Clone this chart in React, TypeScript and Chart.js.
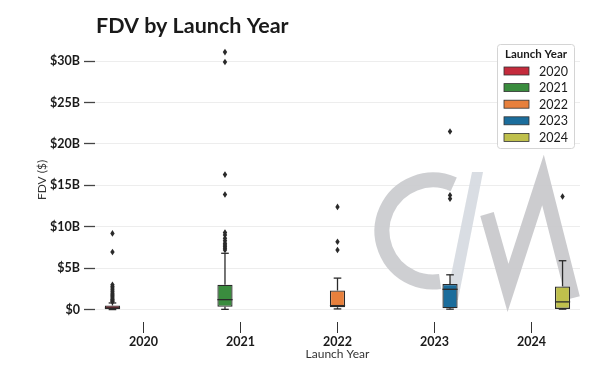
import { useEffect, useRef } from 'react';
import { Chart, registerables } from 'chart.js';

Chart.register(...registerables);

// ---- data (values in billions of USD) ----
const YEARS = ['2020', '2021', '2022', '2023', '2024'];
const COLORS = ['#c42b3c', '#3a8c3e', '#e8803c', '#1b6d9c', '#bfc04c'];
const Q1 = [0.03, 0.33, 0.28, 0.16, 0.08];
const MEDIAN = [0.2, 1.2, 0.48, 2.45, 0.93];
const Q3 = [0.5, 3.0, 2.3, 3.1, 2.8];
const WHISKER_LOW = [0.0, 0.03, 0.08, 0.05, 0.05];
const WHISKER_HIGH = [0.8, 6.8, 3.8, 4.2, 5.9];
const OUT_2020 = [0.95, 1.05, 1.15, 1.25, 1.4, 1.55, 1.7, 1.85, 2.0, 2.2, 2.4, 2.6, 2.8, 3.0, 6.95, 9.2];
const OUT_2021 = [7.2, 7.4, 7.6, 7.8, 8.0, 8.3, 8.6, 9.0, 9.3, 13.9, 16.3, 29.9, 31.1];
const OUT_2022 = [7.2, 8.2, 12.4];
const OUT_2023 = [13.4, 13.8, 21.5];
const OUT_2024 = [13.65];
const OUTLIERS = [OUT_2020, OUT_2021, OUT_2022, OUT_2023, OUT_2024];
const TICK_VALUES = [0, 5, 10, 15, 20, 25, 30];
const TICK_LABELS = ['$0', '$5B', '$10B', '$15B', '$20B', '$25B', '$30B'];
const TITLE = 'FDV by Launch Year';
const LEGEND_TITLE = 'Launch Year';

const FONT = 'Lato, "Open Sans", sans-serif';

const watermarkPlugin = {
  id: 'watermark',
  beforeDatasetsDraw(chart: any) {
    const ctx = chart.ctx;
    ctx.save();
    ctx.globalAlpha = 0.9;
    // C
    ctx.strokeStyle = '#c9cacd';
    ctx.lineWidth = 15;
    ctx.lineCap = 'butt';
    ctx.beginPath();
    ctx.arc(433, 231, 51, (-66 * Math.PI) / 180, (82 * Math.PI) / 180, true);
    ctx.stroke();
    // slash
    ctx.fillStyle = '#d5d9e0';
    ctx.beginPath();
    ctx.moveTo(446, 300);
    ctx.lineTo(458, 300);
    ctx.lineTo(483, 172);
    ctx.lineTo(472, 172);
    ctx.closePath();
    ctx.fill();
    // M
    ctx.strokeStyle = '#c6c7ca';
    ctx.lineWidth = 14;
    ctx.lineJoin = 'miter';
    ctx.beginPath();
    ctx.moveTo(487, 214);
    ctx.lineTo(508, 288);
    ctx.lineTo(543, 180);
    ctx.lineTo(573, 298);
    ctx.stroke();
    ctx.restore();
  },
};

const boxPlugin = {
  id: 'boxExtras',
  afterDatasetsDraw(chart: any) {
    const ctx = chart.ctx;
    const ys = chart.scales.y;
    const py = (v: number) => ys.getPixelForValue(v);
    const line = (x1: number, y1: number, x2: number, y2: number) => {
      ctx.beginPath();
      ctx.moveTo(x1, y1);
      ctx.lineTo(x2, y2);
      ctx.stroke();
    };
    YEARS.forEach((_, i) => {
      const el = chart.getDatasetMeta(i).data[i];
      if (!el) return;
      const x = el.x;
      const w = el.width;
      ctx.save();
      ctx.strokeStyle = '#2a2a2a';
      ctx.lineWidth = 1.3;
      line(x - w / 2, py(MEDIAN[i]), x + w / 2, py(MEDIAN[i]));
      line(x, py(Q3[i]), x, py(WHISKER_HIGH[i]));
      line(x - w / 4, py(WHISKER_HIGH[i]), x + w / 4, py(WHISKER_HIGH[i]));
      line(x, py(Q1[i]), x, py(WHISKER_LOW[i]));
      line(x - w / 4, py(WHISKER_LOW[i]), x + w / 4, py(WHISKER_LOW[i]));
      ctx.fillStyle = '#2a2a2a';
      OUTLIERS[i].forEach((v) => {
        const yy = py(v);
        ctx.beginPath();
        ctx.moveTo(x, yy - 3.3);
        ctx.lineTo(x + 2.2, yy);
        ctx.lineTo(x, yy + 3.3);
        ctx.lineTo(x - 2.2, yy);
        ctx.closePath();
        ctx.fill();
      });
      ctx.restore();
    });
  },
};

const decorPlugin = {
  id: 'decor',
  afterDraw(chart: any) {
    const ctx = chart.ctx;
    ctx.save();
    // title
    ctx.fillStyle = '#1a1a1a';
    ctx.font = `bold 21.5px ${FONT}`;
    ctx.textAlign = 'left';
    ctx.textBaseline = 'alphabetic';
    ctx.fillText(TITLE, 96, 33);
    // legend box
    const bx = 497, by = 44, bw = 77, bh = 104;
    ctx.fillStyle = 'rgba(255,255,255,0.9)';
    ctx.strokeStyle = '#d4d4d4';
    ctx.lineWidth = 1;
    ctx.beginPath();
    ctx.roundRect(bx + 0.5, by + 0.5, bw, bh, 3);
    ctx.fill();
    ctx.stroke();
    ctx.fillStyle = '#1a1a1a';
    ctx.font = `bold 11.5px ${FONT}`;
    ctx.textAlign = 'center';
    ctx.textBaseline = 'middle';
    ctx.fillText(LEGEND_TITLE, bx + bw / 2 + 0.5, 54.5);
    YEARS.forEach((yr, k) => {
      const cy = 71 + k * 16.6;
      ctx.fillStyle = COLORS[k];
      ctx.strokeStyle = '#333';
      ctx.lineWidth = 0.8;
      ctx.fillRect(504, cy - 4, 25, 8);
      ctx.strokeRect(504, cy - 4, 25, 8);
      ctx.fillStyle = '#1a1a1a';
      ctx.font = `12.5px ${FONT}`;
      ctx.textAlign = 'left';
      ctx.fillText(yr, 539, cy + 0.5);
    });
    ctx.restore();
  },
};

export default function App() {
  const ref = useRef<HTMLCanvasElement>(null);
  useEffect(() => {
    if (!ref.current) return;
    const datasets = YEARS.map((yr, i) => ({
      label: yr,
      data: YEARS.map((_, j) => (j === i ? [Q1[i], Q3[i]] : null)) as any,
      backgroundColor: COLORS[i],
      borderColor: '#2a2a2a',
      borderWidth: 1.3,
      borderSkipped: false,
      categoryPercentage: 0.8,
      barPercentage: 0.98,
    }));
    const chart = new Chart(ref.current, {
      type: 'bar',
      data: { labels: YEARS, datasets },
      options: {
        responsive: false,
        animation: false,
        devicePixelRatio: 1,
        layout: { padding: { top: 38, right: 20, left: 0, bottom: 0 } },
        plugins: { legend: { display: false }, tooltip: { enabled: false } },
        scales: {
          x: {
            type: 'category',
            grid: {
              display: true,
              drawOnChartArea: false,
              drawTicks: true,
              tickLength: 11,
              tickColor: '#333',
              tickWidth: 1,
              offset: false,
            },
            border: { display: false },
            ticks: { padding: 1, color: '#1a1a1a', font: { family: FONT, weight: 'bold', size: 12.5 } },
            title: {
              display: true,
              text: 'Launch Year',
              color: '#333',
              font: { family: FONT, size: 12 },
              padding: { top: 0, bottom: 12 },
            },
            afterFit: (s: any) => {
              s.height = 51;
            },
          },
          y: {
            type: 'linear',
            min: -1.5,
            max: 32.8,
            afterBuildTicks: (s: any) => {
              s.ticks = TICK_VALUES.map((v) => ({ value: v }));
            },
            grid: { color: '#ededed', lineWidth: 1, tickColor: '#444', tickLength: 11, tickWidth: 1.3 },
            border: { display: false },
            ticks: {
              padding: 4,
              color: '#1a1a1a',
              font: { family: FONT, weight: 'bold', size: 12.5 },
              callback: (v: any) => TICK_LABELS[TICK_VALUES.indexOf(Number(v))],
            },
            title: {
              display: true,
              text: 'FDV ($)',
              color: '#333',
              font: { family: FONT, size: 12 },
              padding: { top: 35, bottom: 0 },
            },
            afterFit: (s: any) => {
              s.width = 95;
            },
          },
        },
      },
      plugins: [watermarkPlugin, boxPlugin, decorPlugin],
    });
    return () => chart.destroy();
  }, []);
  return (
    <div style={{ position: 'fixed', left: 0, top: 0, width: 600, height: 373, background: '#fff' }}>
      <canvas ref={ref} width={600} height={373} style={{ display: 'block' }} />
    </div>
  );
}
